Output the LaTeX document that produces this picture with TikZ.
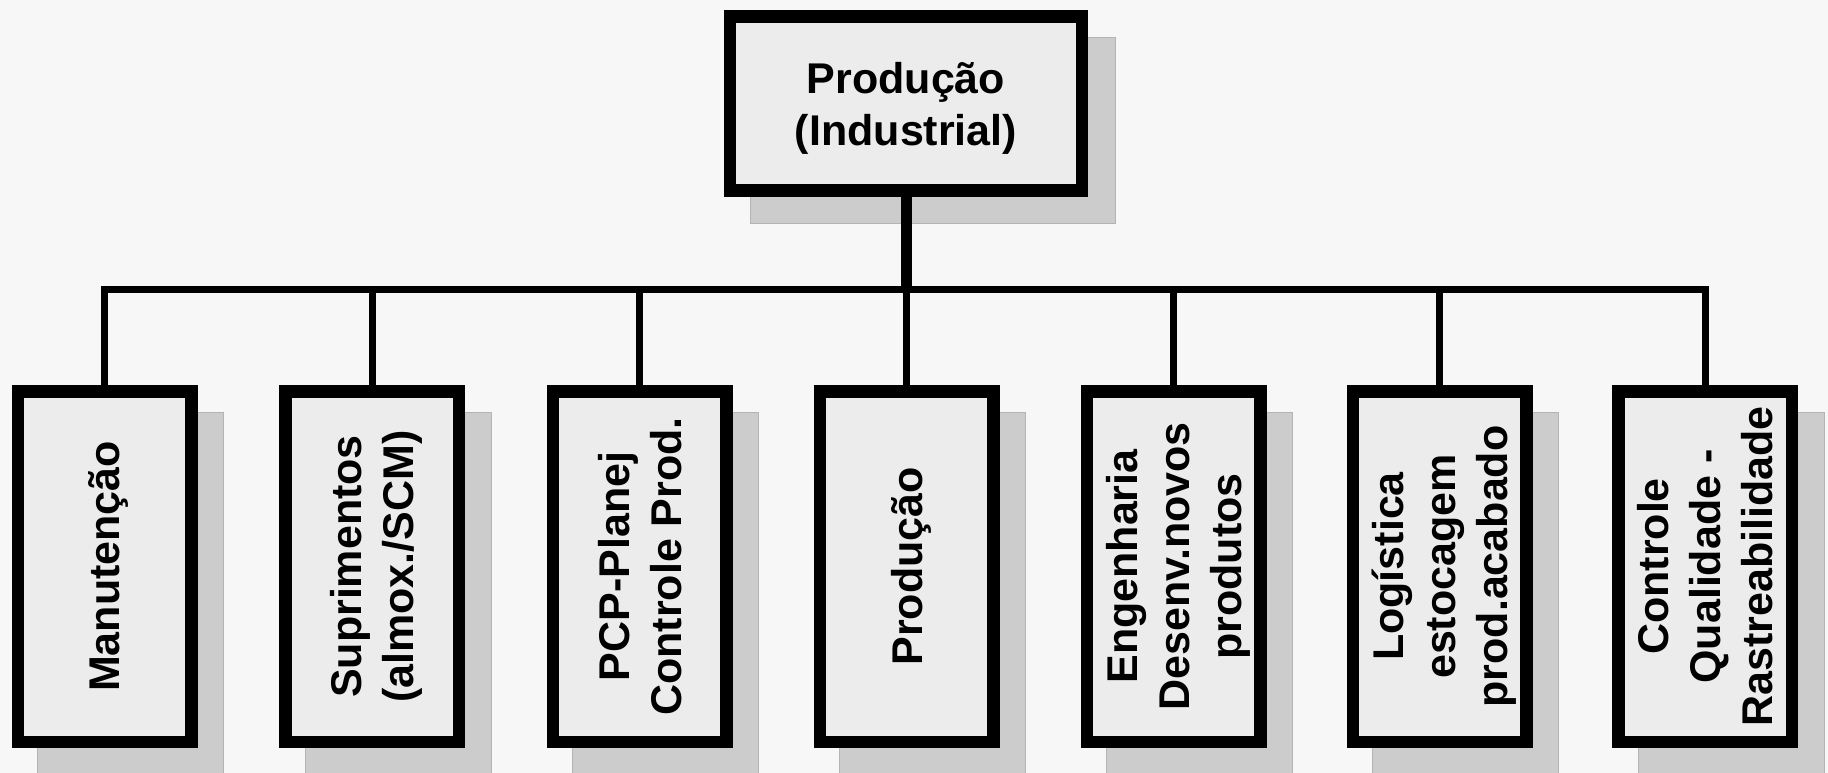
\documentclass[tikz,border=0pt]{standalone}
\usepackage{fontspec}
\setmainfont{Liberation Sans}
\usetikzlibrary{calc}
\pgfdeclarelayer{background}
\pgfsetlayers{background,main}

\definecolor{pagebg}{HTML}{F7F7F7}
\definecolor{boxfill}{HTML}{ECECEC}
\definecolor{shadowfill}{HTML}{CCCCCC}
\definecolor{shadowedge}{HTML}{B4B4B4}

\tikzset{
  x=1pt, y=-1pt,
  orgbox/.style={draw=black, line width=12.5pt, fill=boxfill, inner sep=0pt,
    minimum width=#1},
  headbox/.style={orgbox=352pt, minimum height=174pt},
  deptbox/.style={orgbox=173.5pt, minimum height=350.5pt},
  boxlabel/.style={font=\bfseries\fontsize{43}{52}\selectfont, align=center,
    inner sep=0pt, text depth=0pt},
  deptlabel/.style={boxlabel, rotate=90},
  boxshadow/.style={fill=shadowfill, draw=shadowedge, line width=1pt},
  trunk/.style={line width=11pt},
  branch/.style={line width=7pt, line join=miter},
}

\begin{document}
\begin{tikzpicture}
\useasboundingbox (0,0) rectangle (1828,773);

% head of the chart
\node[headbox] (head) at (906,103.5) {};
\node[boxlabel] (headlabel) at (head.center) {Produção\\(Industrial)};

% departments
\node[deptbox] (d1) at (104.5,566.5) {};
\node[deptbox] (d2) at (372,566.5) {};
\node[deptbox] (d3) at (639.5,566.5) {};
\node[deptbox] (d4) at (906.5,566.5) {};
\node[deptbox] (d5) at (1173.5,566.5) {};
\node[deptbox] (d6) at (1439.5,566.5) {};
\node[deptbox] (d7) at (1705,566.5) {};

\node[deptlabel] (d1label) at (d1.center) {Manutenção};
\node[deptlabel] (d2label) at (d2.center) {Suprimentos\\(almox./SCM)};
\node[deptlabel] (d3label) at (d3.center) {PCP-Planej\\Controle Prod.};
\node[deptlabel] (d4label) at (d4.center) {Produção};
\node[deptlabel] (d5label) at (d5.center) {Engenharia\\Desenv.novos\\produtos};
\node[deptlabel] (d6label) at (d6.center) {Logística\\estocagem\\prod.acabado};
\node[deptlabel] (d7label) at (d7.center) {Controle\\Qualidade -\\Rastreabilidade};

% connectors
\coordinate (hub) at (906,289.5);
\draw[trunk] (head.south) -- (hub);
\draw[branch] (d1.north) |- (hub) -| (d7.north);
\foreach \d in {d2,d3,d4,d5,d6}
  \draw[branch] (\d.north) -- (\d.north |- hub);

% page and drop shadows
\begin{pgfonlayer}{background}
  \fill[pagebg] (0,0) rectangle (1828,773);
  \begin{scope}
    \clip (0,0) rectangle (1828,773);
    \draw[boxshadow] ($(head.north west)+(27,27)$) rectangle ($(head.south east)+(27,27)$);
    \foreach \d in {d1,d2,d3,d4,d5,d6,d7}
      \draw[boxshadow] ($(\d.north west)+(26,27)$) rectangle ($(\d.south east)+(26,27)$);
  \end{scope}
\end{pgfonlayer}
\end{tikzpicture}
\end{document}
